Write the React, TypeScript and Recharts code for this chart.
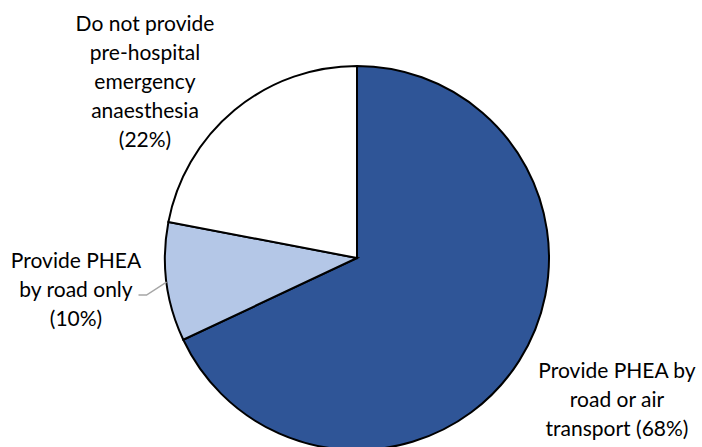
import React from 'react';
import { PieChart, Pie, Cell } from 'recharts';

const categories = [
  'Provide PHEA by road or air transport',
  'Provide PHEA by road only',
  'Do not provide pre-hospital emergency anaesthesia',
];
const shares = [68, 10, 22];
const labelLines = [
  ['Provide PHEA by', 'road or air', 'transport (68%)'],
  ['Provide PHEA', 'by road only', '(10%)'],
  ['Do not provide', 'pre-hospital', 'emergency', 'anaesthesia', '(22%)'],
];
const colors = ['#2F5597', '#B4C7E7', '#FFFFFF'];

// where each label block's first baseline sits, relative to the pie centre
const labelOffsets = [
  { dx: 260, dy: 120 },
  { dx: -281, dy: 10 },
  { dx: -212, dy: -227 },
];

const data = categories.map((name, i) => ({ name, value: shares[i] }));

const RAD = Math.PI / 180;
const FONT = 'Lato, "Open Sans", sans-serif';

const renderLabel = (props: any) => {
  const { cx, cy, midAngle, outerRadius, index } = props;
  const off = labelOffsets[index];
  const x = cx + off.dx;
  const y = cy + off.dy;
  let leader = null;
  if (index === 1) {
    // small slice gets the grey leader line like the original
    const ex = cx + outerRadius * Math.cos(-midAngle * RAD);
    const ey = cy + outerRadius * Math.sin(-midAngle * RAD);
    leader = (
      <polyline
        points={`${ex},${ey} ${ex - 20},${ey + 13} ${ex - 28},${ey + 13}`}
        fill="none"
        stroke="#A6A6A6"
        strokeWidth={1.5}
      />
    );
  }
  return (
    <g>
      {leader}
      <text x={x} y={y} textAnchor="middle" fill="#000" fontSize={21} fontFamily={FONT}>
        {labelLines[index].map((line, i) => (
          <tspan key={i} x={x} dy={i === 0 ? 0 : 29}>
            {line}
          </tspan>
        ))}
      </text>
    </g>
  );
};

export default function App() {
  return (
    <div style={{ position: 'absolute', left: 0, top: 0, width: 702, height: 447, background: '#fff' }}>
      <PieChart width={702} height={447} margin={{ top: 0, right: 0, bottom: 0, left: 0 }}>
        <Pie
          data={data}
          dataKey="value"
          nameKey="name"
          cx={357}
          cy={258}
          outerRadius={192}
          startAngle={90}
          endAngle={-270}
          stroke="#000"
          strokeWidth={2}
          label={renderLabel}
          labelLine={false}
          isAnimationActive={false}
        >
          {data.map((d, i) => (
            <Cell key={d.name} fill={colors[i]} stroke="#000" strokeWidth={2} />
          ))}
        </Pie>
      </PieChart>
    </div>
  );
}
